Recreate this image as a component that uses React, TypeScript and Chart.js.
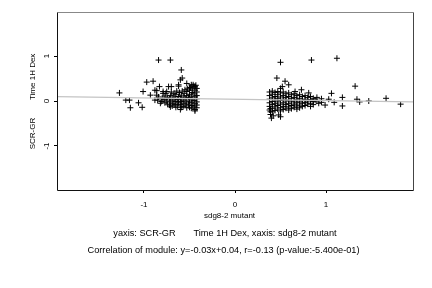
import { useEffect, useRef } from "react";
import { Chart, registerables } from "chart.js";

Chart.register(...registerables);

// ---- data ----
const leftCluster: [number, number][] = [
  [-1.27, 0.18], [-1.2, 0.02], [-1.16, 0.02], [-1.15, -0.15], [-1.06, -0.04], [-1.02, -0.14],
  [-1.01, 0.21], [-0.97, 0.42], [-0.9, 0.44], [-0.84, 0.91], [-0.71, 0.91], [-0.59, 0.69],
  [-0.6, 0.47], [-0.58, 0.51], [-0.88, 0.24], [-0.86, 0.23], [-0.83, 0.32], [-0.79, 0.21],
  [-0.73, 0.32], [-0.62, 0.33], [-0.53, 0.39], [-0.46, 0.36], [-0.93, 0.13], [-0.86, 0.13],
  [-0.88, 0.02], [-0.82, -0.05], [-0.71, -0.13], [-0.6, -0.19], [-0.44, -0.22], [-0.62, 0.36],
  [-0.7, 0.32], [-0.48, 0.36], [-0.75, 0.21], [-0.79, 0.17], [-0.44, 0.33], [-0.5, 0.3],
  [-0.42, 0.28], [-0.42, 0.2], [-0.42, 0.12], [-0.42, 0.05], [-0.42, -0.02], [-0.42, -0.09], [-0.42, -0.15],
  [-0.44, 0.31], [-0.44, 0.24], [-0.45, 0.16], [-0.44, 0.09], [-0.45, 0.01], [-0.44, -0.06], [-0.45, -0.13], [-0.44, -0.19],
  [-0.47, 0.27], [-0.47, 0.19], [-0.48, 0.11], [-0.47, 0.04], [-0.48, -0.03], [-0.47, -0.1], [-0.48, -0.16],
  [-0.5, 0.24], [-0.5, 0.15], [-0.51, 0.08], [-0.5, 0.0], [-0.51, -0.07], [-0.5, -0.14],
  [-0.53, 0.21], [-0.53, 0.12], [-0.54, 0.05], [-0.53, -0.02], [-0.54, -0.09], [-0.53, -0.15],
  [-0.56, 0.17], [-0.56, 0.09], [-0.57, 0.02], [-0.56, -0.05], [-0.57, -0.12],
  [-0.59, 0.13], [-0.6, 0.06], [-0.59, -0.01], [-0.6, -0.08], [-0.59, -0.14],
  [-0.62, 0.1], [-0.63, 0.03], [-0.62, -0.04], [-0.63, -0.11],
  [-0.65, 0.14], [-0.66, 0.06], [-0.65, -0.01], [-0.66, -0.08], [-0.65, -0.14],
  [-0.68, 0.09], [-0.69, 0.02], [-0.68, -0.05], [-0.69, -0.11],
  [-0.71, 0.12], [-0.72, 0.05], [-0.71, -0.02], [-0.72, -0.09],
  [-0.74, 0.08], [-0.75, 0.0], [-0.74, -0.07],
  [-0.77, 0.11], [-0.78, 0.03], [-0.77, -0.04],
  [-0.8, 0.06], [-0.81, -0.01], [-0.84, 0.09], [-0.85, 0.02],
  [-0.43, 0.35], [-0.46, 0.33], [-0.49, 0.29], [-0.52, 0.27], [-0.55, 0.25], [-0.58, 0.22],
  [-0.61, 0.19], [-0.64, 0.22], [-0.67, 0.17], [-0.7, 0.2], [-0.76, 0.17],
];

const rightCluster: [number, number][] = [
  [0.5, 0.86], [0.84, 0.91], [1.12, 0.95], [0.46, 0.51], [0.55, 0.44], [0.52, 0.32], [0.59, 0.36],
  [0.5, 0.28], [0.73, 0.25], [0.81, 0.18], [0.66, 0.21], [1.06, 0.17], [1.18, 0.08], [1.32, 0.33],
  [1.34, 0.04], [1.37, -0.02], [1.47, 0.0], [1.66, 0.06], [1.82, -0.07], [1.18, -0.11], [1.09, -0.03],
  [0.99, -0.09], [0.92, -0.05], [1.03, 0.04], [0.88, 0.02], [0.39, -0.24], [0.4, -0.38], [0.48, -0.31],
  [0.5, -0.35], [0.39, -0.3], [0.42, -0.33], [0.39, -0.17],
  [0.38, 0.2], [0.38, 0.12], [0.38, 0.04], [0.38, -0.04], [0.38, -0.12], [0.38, -0.2],
  [0.41, 0.22], [0.41, 0.15], [0.41, 0.07], [0.41, -0.01], [0.41, -0.08], [0.41, -0.16], [0.41, -0.24],
  [0.44, 0.19], [0.44, 0.1], [0.44, 0.02], [0.44, -0.06], [0.44, -0.13], [0.44, -0.21],
  [0.47, 0.21], [0.47, 0.14], [0.47, 0.06], [0.47, -0.02], [0.47, -0.1], [0.47, -0.18],
  [0.5, 0.18], [0.5, 0.09], [0.5, 0.01], [0.5, -0.07], [0.5, -0.15], [0.5, -0.22],
  [0.53, 0.2], [0.53, 0.12], [0.53, 0.04], [0.53, -0.04], [0.53, -0.12], [0.53, -0.19],
  [0.56, 0.16], [0.56, 0.08], [0.56, 0.0], [0.56, -0.08], [0.56, -0.16],
  [0.59, 0.18], [0.59, 0.1], [0.59, 0.02], [0.59, -0.06], [0.59, -0.13], [0.59, -0.2],
  [0.62, 0.14], [0.62, 0.06], [0.62, -0.02], [0.62, -0.1], [0.62, -0.17],
  [0.65, 0.16], [0.65, 0.08], [0.65, 0.0], [0.65, -0.07], [0.65, -0.14],
  [0.68, 0.12], [0.68, 0.04], [0.68, -0.04], [0.68, -0.11], [0.68, -0.18],
  [0.71, 0.14], [0.71, 0.06], [0.71, -0.02], [0.71, -0.09], [0.71, -0.15],
  [0.74, 0.1], [0.74, 0.02], [0.74, -0.05], [0.74, -0.12],
  [0.77, 0.12], [0.77, 0.04], [0.77, -0.03], [0.77, -0.1],
  [0.8, 0.08], [0.8, 0.0], [0.8, -0.07],
  [0.83, 0.1], [0.83, 0.03], [0.83, -0.05], [0.83, -0.12],
  [0.86, 0.06], [0.86, -0.01], [0.86, -0.08],
  [0.9, 0.08], [0.9, 0.0], [0.95, 0.05], [0.95, -0.03],
];

const fitLine: [number, number][] = [[-1.956, 0.099], [1.956, -0.019]];

const xRange = [-1.956, 1.956];
const yRange = [-1.978, 1.956];
const xTicks = [-1, 0, 1];
const yTicks = [-1, 0, 1];

const xTitle = "sdg8-2 mutant";
const yTitle = "SCR-GR        Time 1H Dex";
const captionLines = [
  "yaxis: SCR-GR       Time 1H Dex, xaxis: sdg8-2 mutant",
  "Correlation of module: y=-0.03x+0.04, r=-0.13 (p-value:-5.400e-01)",
];

const FONT = '"Liberation Sans", Arial, Helvetica, sans-serif';

const toXY = (arr: [number, number][]) => arr.map(([x, y]) => ({ x, y }));

const framePlugin = {
  id: "frameAndCaption",
  afterDraw(chart: any) {
    const { ctx, chartArea } = chart;
    const l = chartArea.left + 0.5;
    const r = chartArea.right + 0.5;
    const t = chartArea.top - 0.5;
    const b = chartArea.bottom + 0.5;
    ctx.save();
    ctx.lineWidth = 1;
    ctx.strokeStyle = "#888";
    ctx.beginPath();
    ctx.moveTo(l, t);
    ctx.lineTo(r, t);
    ctx.stroke();
    ctx.strokeStyle = "#444";
    ctx.beginPath();
    ctx.moveTo(r, t);
    ctx.lineTo(r, b);
    ctx.stroke();
    ctx.strokeStyle = "#111";
    ctx.beginPath();
    ctx.moveTo(l, t);
    ctx.lineTo(l, b);
    ctx.lineTo(r, b);
    ctx.stroke();

    ctx.fillStyle = "#000";
    ctx.textAlign = "center";
    ctx.textBaseline = "middle";
    ctx.font = `8px ${FONT}`;
    ctx.fillText(xTitle, 229.5, 216);
    ctx.font = `9.2px ${FONT}`;
    ctx.fillText(captionLines[0], 225, 233);
    ctx.fillText(captionLines[1], 223.5, 250);
    ctx.restore();
  },
};

export default function App() {
  const ref = useRef<HTMLCanvasElement | null>(null);

  useEffect(() => {
    if (!ref.current) return;
    const tickFont = { family: FONT, size: 8 };
    const chart = new Chart(ref.current, {
      type: "scatter",
      data: {
        datasets: [
          {
            type: "line",
            data: toXY(fitLine),
            borderColor: "#c4c4c4",
            borderWidth: 1.2,
            pointRadius: 0,
            order: 0,
          } as any,
          {
            data: toXY(leftCluster),
            pointStyle: "cross",
            pointRadius: 3,
            borderColor: "#000",
            backgroundColor: "#000",
            borderWidth: 1,
            order: 1,
          },
          {
            data: toXY(rightCluster),
            pointStyle: "cross",
            pointRadius: 3,
            borderColor: "#000",
            backgroundColor: "#000",
            borderWidth: 1,
            order: 1,
          },
        ],
      },
      options: {
        animation: false,
        responsive: false,
        devicePixelRatio: 1,
        layout: { padding: { left: 0, top: 13, right: 19, bottom: 0 } },
        plugins: { legend: { display: false }, tooltip: { enabled: false } },
        scales: {
          x: {
            type: "linear",
            min: xRange[0],
            max: xRange[1],
            afterBuildTicks: (s: any) => {
              s.ticks = xTicks.map((v) => ({ value: v }));
            },
            afterFit: (s: any) => {
              s.height = 98;
            },
            ticks: {
              color: "#000",
              font: tickFont,
              padding: 7,
              maxRotation: 0,
              minRotation: 0,
              autoSkip: false,
              callback: (v: any) => String(v),
            },
            grid: { display: true, drawOnChartArea: false, drawTicks: true, tickLength: 3, color: "#000" },
            border: { display: false },
          },
          y: {
            type: "linear",
            min: yRange[0],
            max: yRange[1],
            afterBuildTicks: (s: any) => {
              s.ticks = yTicks.map((v) => ({ value: v }));
            },
            afterFit: (s: any) => {
              s.width = 57;
            },
            ticks: {
              color: "#000",
              font: tickFont,
              padding: 3.5,
              minRotation: 90,
              maxRotation: 90,
              crossAlign: "center",
              autoSkip: false,
              callback: (v: any) => String(v),
            },
            grid: { display: true, drawOnChartArea: false, drawTicks: true, tickLength: 3, color: "#000" },
            border: { display: false },
            title: {
              display: true,
              text: yTitle,
              color: "#000",
              font: tickFont,
              padding: { top: 28, bottom: 0 },
            },
          },
        },
      },
      plugins: [framePlugin],
    });
    return () => chart.destroy();
  }, []);

  return (
    <div style={{ position: "absolute", left: 0, top: 0, width: 432, height: 288, background: "#fff" }}>
      <canvas ref={ref} width={432} height={288} style={{ display: "block" }} />
    </div>
  );
}
